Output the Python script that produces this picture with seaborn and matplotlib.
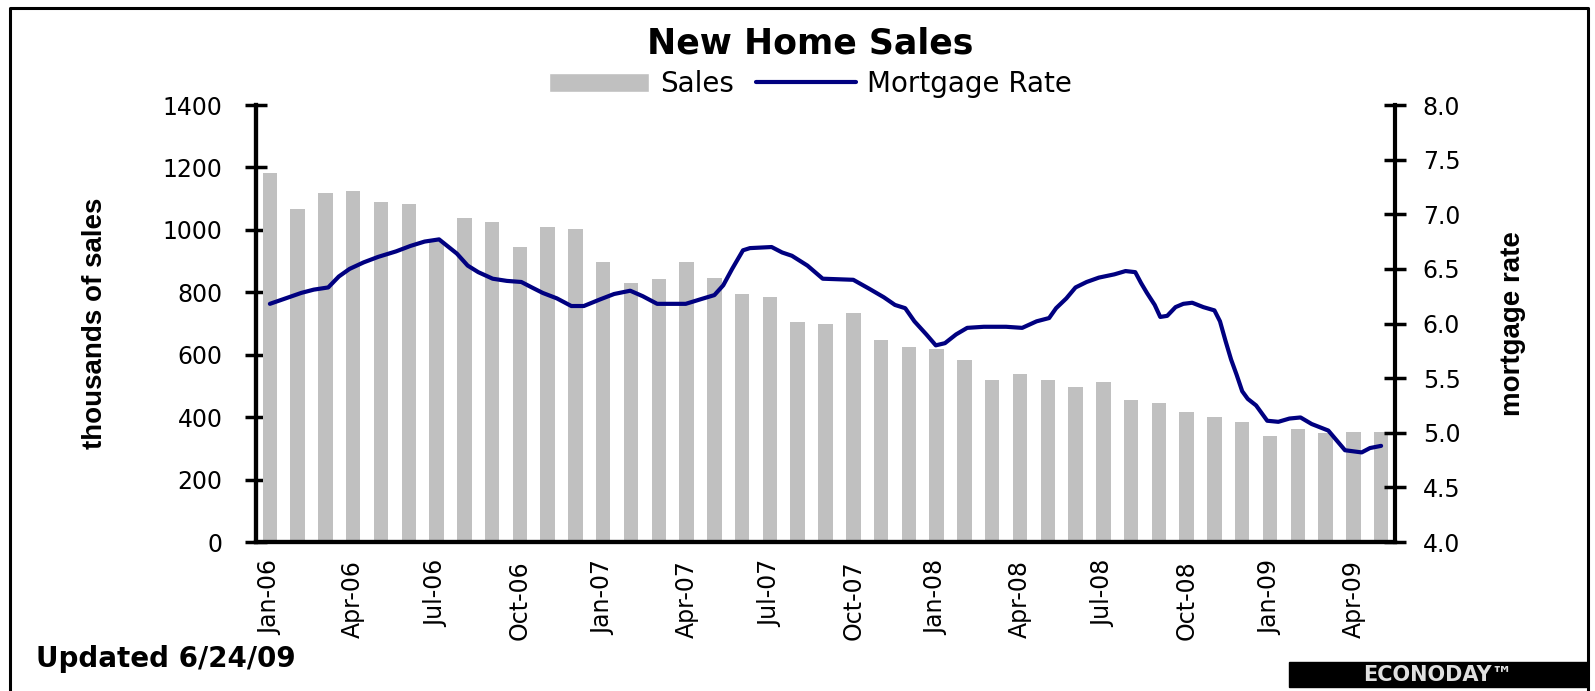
import numpy as np
import pandas as pd
import matplotlib
matplotlib.use("Agg")
import matplotlib.pyplot as plt
from matplotlib.patches import Patch, Rectangle
from matplotlib.lines import Line2D
import seaborn as sns

# monthly new home sales (thousands), Jan-06 .. May-09
months = pd.date_range("2006-01-01", periods=41, freq="MS").strftime("%b-%y").tolist()
sales = [1181, 1067, 1118, 1124, 1089, 1083, 965, 1038, 1025, 946,
         1010, 1003, 898, 831, 841, 898, 847, 796, 784, 704,
         698, 733, 647, 625, 618, 583, 520, 539, 520, 497,
         513, 456, 446, 418, 399, 383, 341, 361, 348, 354, 354]

# mortgage rate, position in months since Jan-06
rate_pos = [0.0, 0.68, 1.13, 1.58, 2.10, 2.48, 2.87, 3.38, 3.90, 4.54,
            5.06, 5.57, 6.09, 6.73, 7.12, 7.50, 8.02, 8.53, 9.05, 9.43,
            9.82, 10.33, 10.85, 11.30, 11.88, 12.39, 12.97, 13.42, 13.94, 14.97,
            15.48, 16.0, 16.32, 16.64, 17.03, 17.28, 18.06, 18.44, 18.79, 19.35,
            19.9, 21.0, 21.56, 22.1, 22.5, 22.87, 23.2, 23.63, 23.97, 24.3,
            24.7, 25.1, 25.7, 26.5, 27.08, 27.6, 28.05, 28.3, 28.67, 29.0,
            29.4, 29.84, 30.4, 30.8, 31.15, 31.36, 31.57, 31.85, 32.05, 32.3,
            32.6, 32.88, 33.2, 33.6, 34.0, 34.2, 34.4, 34.6, 34.8, 35.0,
            35.2, 35.5, 35.9, 36.3, 36.7, 37.1, 37.5, 38.1, 38.3, 38.7,
            39.3, 39.6, 40.0]
rate = [6.18, 6.24, 6.28, 6.31, 6.33, 6.43, 6.50, 6.56, 6.61, 6.66,
        6.71, 6.75, 6.77, 6.64, 6.53, 6.47, 6.41, 6.39, 6.38, 6.33,
        6.28, 6.23, 6.16, 6.16, 6.22, 6.27, 6.30, 6.25, 6.18, 6.18,
        6.22, 6.26, 6.35, 6.50, 6.67, 6.69, 6.70, 6.65, 6.62, 6.53,
        6.41, 6.40, 6.32, 6.24, 6.17, 6.14, 6.02, 5.90, 5.80, 5.82,
        5.90, 5.96, 5.97, 5.97, 5.96, 6.02, 6.05, 6.14, 6.23, 6.33,
        6.38, 6.42, 6.45, 6.48, 6.47, 6.37, 6.28, 6.17, 6.06, 6.07,
        6.15, 6.18, 6.19, 6.15, 6.12, 6.02, 5.84, 5.67, 5.53, 5.38,
        5.31, 5.25, 5.11, 5.10, 5.13, 5.14, 5.08, 5.02, 4.96, 4.84,
        4.82, 4.86, 4.88]

tick_labels = ["Jan-06", "Apr-06", "Jul-06", "Oct-06", "Jan-07", "Apr-07", "Jul-07",
               "Oct-07", "Jan-08", "Apr-08", "Jul-08", "Oct-08", "Jan-09", "Apr-09"]
sales_ticks = [0, 200, 400, 600, 800, 1000, 1200, 1400]
rate_ticks = [4.0, 4.5, 5.0, 5.5, 6.0, 6.5, 7.0, 7.5, 8.0]

bar_color = "#C0C0C0"
line_color = "#000080"

sns.set_style("white")
plt.rcParams["font.family"] = ["DejaVu Sans"]
for k in ("text.color", "axes.labelcolor", "xtick.color", "ytick.color"):
    plt.rcParams[k] = "black"
narrow = ["Liberation Sans", "DejaVu Sans"]

fig = plt.figure(figsize=(15.95, 6.91), dpi=100)
ax = fig.add_axes([256 / 1595, 1 - 542 / 691, 1139 / 1595, 437 / 691])

sns.barplot(x=months, y=sales, color=bar_color, saturation=1, width=0.52,
            linewidth=0, ax=ax)
ax.set_xlim(-0.5, 40.5)
ax.set_ylim(0, 1400)
ax.set_yticks(sales_ticks)
ax.set_yticklabels([str(v) for v in sales_ticks], fontsize=17)
ax.set_xticks(range(0, 41, 3))
ax.set_xticklabels(tick_labels, rotation=90, fontsize=17)
ax.set_xticks(np.arange(-0.5, 40, 3), minor=True)
ax.tick_params(axis="x", which="major", length=0, pad=13)
ax.tick_params(axis="x", which="minor", direction="inout", length=12, width=2.5, color="black")
ax.tick_params(axis="y", direction="inout", length=16, width=2.5, color="black", pad=16)
ax.set_xlabel("")
ax.set_ylabel("thousands of sales", fontsize=20, fontweight="bold", family=narrow)
ax.yaxis.set_label_coords(-0.13, 0.5)

ax2 = ax.twinx()
sns.lineplot(x=rate_pos, y=rate, color=line_color, linewidth=3, ax=ax2)
ax2.set_ylim(4, 8)
ax2.set_yticks(rate_ticks)
ax2.set_yticklabels([f"{v:.1f}" for v in rate_ticks], fontsize=17)
ax2.tick_params(axis="y", direction="inout", length=16, width=2.5, color="black", pad=12)
ax2.set_ylabel("mortgage rate", fontsize=20, fontweight="bold", family=narrow)
ax2.yaxis.set_label_coords(1.092, 0.5)

for a in (ax, ax2):
    a.spines["top"].set_visible(False)
    for s in ("left", "right", "bottom"):
        a.spines[s].set_color("black")
        a.spines[s].set_linewidth(3)
ax.spines["right"].set_visible(False)

fig.text(0.508, 1 - 44 / 691, "New Home Sales", ha="center", va="center",
         fontsize=25, fontweight="bold")
fig.legend(handles=[Patch(facecolor=bar_color, label="Sales"),
                    Line2D([], [], color=line_color, lw=3, label="Mortgage Rate")],
           loc="center", bbox_to_anchor=(0.508, 1 - 84 / 691), ncol=2, frameon=False,
           fontsize=20, handlelength=3.6, handletextpad=0.4, columnspacing=0.8)

fig.text(36 / 1595, 1 - 659 / 691, "Updated 6/24/09", ha="left", va="center",
         fontsize=20, fontweight="bold")
fig.add_artist(Rectangle((1289 / 1595, 1 - 687 / 691), 298 / 1595, 25 / 691,
                         transform=fig.transFigure, color="black"))
fig.text(1438 / 1595, 1 - 675 / 691, "ECONODAY\u2122", ha="center", va="center",
         fontsize=15, fontweight="bold", color="#E0E0E0")

# outer frame
fx0, fx1, fy1 = 10 / 1595, 1588 / 1595, 1 - 8 / 691
fig.add_artist(Line2D([fx0, fx0, fx1, fx1], [0, fy1, fy1, 0],
                      transform=fig.transFigure, color="black", lw=2.2))

fig.savefig("out.png", dpi=100)
